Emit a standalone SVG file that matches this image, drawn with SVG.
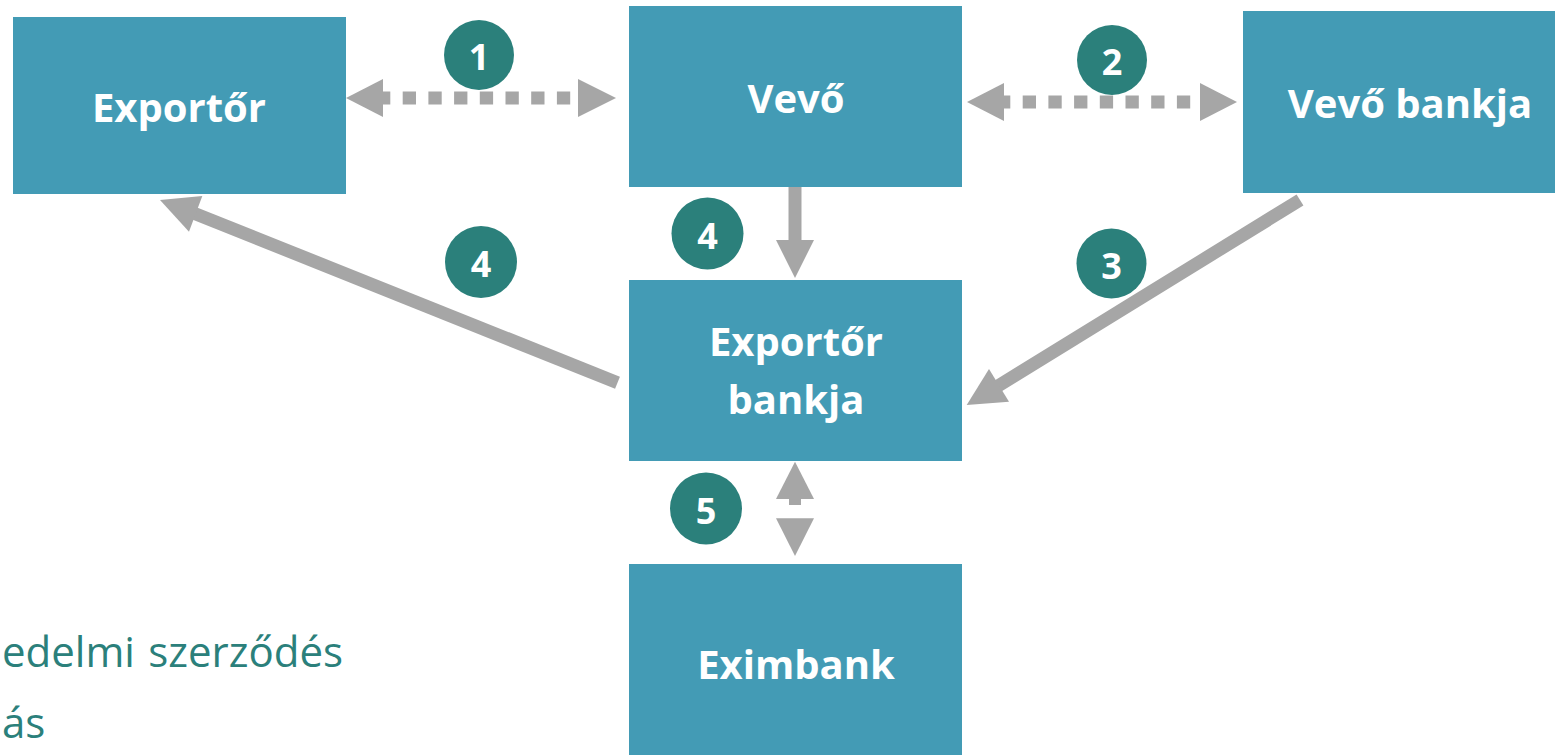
<svg xmlns="http://www.w3.org/2000/svg" width="1555" height="755" viewBox="0 0 1555 755">
<style>
.box{fill:#439bb5}
.lbl{font-family:"Open Sans","Liberation Sans",sans-serif;font-weight:700;font-size:40px;fill:#ffffff;text-anchor:middle}
.num{fill:#2b807b}
.numt{font-family:"Open Sans","Liberation Sans",sans-serif;font-weight:700;font-size:36px;fill:#ffffff;text-anchor:middle}
.shaft{stroke:#a6a6a6;stroke-width:13;fill:none}
.dots{stroke:#a6a6a6;stroke-width:13;fill:none;stroke-dasharray:13.3 12.4}
.head{fill:#a6a6a6}
.note{font-family:"Open Sans","Liberation Sans",sans-serif;font-size:42px;fill:#2b807b}
</style>
<rect width="1555" height="755" fill="#ffffff"/>
<g id="connectors">
  <line class="dots" x1="377" y1="98" x2="578" y2="98"/>
  <polygon class="head" points="346,98 383,79 383,117"/>
  <polygon class="head" points="616,98 578,79 578,117"/>
  <line class="dots" x1="997" y1="102" x2="1200" y2="102"/>
  <polygon class="head" points="967,102 1004,83 1004,121"/>
  <polygon class="head" points="1237,102 1200,83 1200,121"/>
  <line class="shaft" x1="795" y1="187" x2="795" y2="241"/>
  <polygon class="head" points="776,240 814,240 795,278"/>
  <line class="shaft" x1="617.5" y1="382.7" x2="194" y2="213.2"/>
  <polygon class="head" points="160,200 202.3,196 189,231.7"/>
  <line class="shaft" x1="1300" y1="200" x2="998" y2="386"/>
  <polygon class="head" points="966.7,405 989,369 1009,401.7"/>
  <polygon class="head" points="795,461.7 776,499 814,499"/>
  <rect class="head" x="789" y="498" width="12" height="7"/>
  <polygon class="head" points="776,518.3 814,518.3 795,556"/>
</g>
<g id="node-exportor">
  <rect class="box" x="13" y="17" width="333" height="177"/>
  <text class="lbl" x="179" y="121.5">Exportőr</text>
</g>
<g id="node-vevo">
  <rect class="box" x="629" y="6" width="333" height="181"/>
  <text class="lbl" x="796" y="112.5">Vevő</text>
</g>
<g id="node-vevo-bankja">
  <rect class="box" x="1243" y="11" width="334" height="182"/>
  <text class="lbl" x="1410" y="118">Vevő bankja</text>
</g>
<g id="node-exportor-bankja">
  <rect class="box" x="629" y="280" width="333" height="181"/>
  <text class="lbl" x="796" y="356">Exportőr</text>
  <text class="lbl" x="796" y="414">bankja</text>
</g>
<g id="node-eximbank">
  <rect class="box" x="629" y="564" width="333" height="200"/>
  <text class="lbl" x="796" y="679">Eximbank</text>
</g>
<g id="badge-1"><circle class="num" cx="479" cy="55" r="35"/><text class="numt" x="479" y="70">1</text></g>
<g id="badge-2"><circle class="num" cx="1112" cy="60" r="35"/><text class="numt" x="1112" y="75">2</text></g>
<g id="badge-4a"><circle class="num" cx="707.5" cy="233.5" r="36"/><text class="numt" x="707.5" y="248.5">4</text></g>
<g id="badge-4b"><circle class="num" cx="481" cy="262" r="36"/><text class="numt" x="481" y="277">4</text></g>
<g id="badge-3"><circle class="num" cx="1111.5" cy="263.5" r="35"/><text class="numt" x="1111.5" y="278.5">3</text></g>
<g id="badge-5"><circle class="num" cx="706" cy="508.5" r="36"/><text class="numt" x="706" y="523.5">5</text></g>
<g id="notes">
  <text class="note" x="2" y="667">edelmi</text>
  <text class="note" x="343" y="667" text-anchor="end">szerződés</text>
  <text class="note" x="2" y="738">ás</text>
</g>
</svg>
